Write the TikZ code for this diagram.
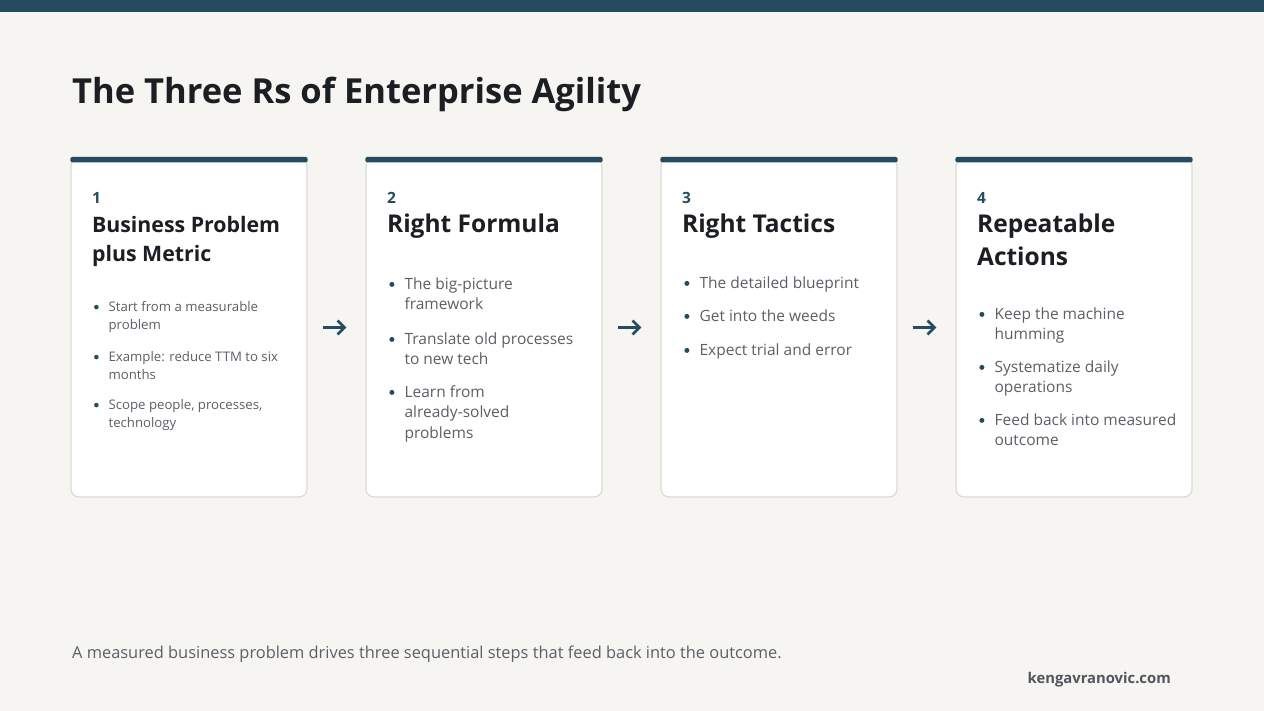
\documentclass[tikz,border=0pt]{standalone}
\usepackage{fontspec}
\setmainfont{Open Sans}
\usetikzlibrary{arrows.meta,calc}
\definecolor{bg}{HTML}{F6F5F1}
\definecolor{dteal}{HTML}{244B5E}
\definecolor{ink}{HTML}{1B1F23}
\definecolor{txtgray}{HTML}{5A6066}
\definecolor{cardline}{HTML}{DADAD7}
\newcommand\bl[2]{\parbox[t]{#1}{\raggedright #2}}
\begin{document}
\begin{tikzpicture}[x=1pt,y=-1pt,
  card/.style={draw=cardline, line width=1.2pt, fill=white, rounded corners=8pt,
    minimum width=236pt, minimum height=339pt, inner sep=0pt},
  numtxt/.style={anchor=base west, inner sep=0pt, text=dteal, font=\fontsize{15.5}{18}\selectfont\bfseries},
  headtxt/.style={anchor=base west, inner sep=0pt, text=ink, font=\fontsize{24.5}{33}\selectfont\bfseries},
  headsmall/.style={anchor=base west, inner sep=0pt, text=ink, font=\fontsize{21.3}{29}\selectfont\bfseries},
  bultxt/.style={anchor=base west, inner sep=0pt, text=txtgray, font=\fontsize{15.5}{20.5}\selectfont},
  bulsmall/.style={anchor=base west, inner sep=0pt, text=txtgray, font=\fontsize{13.2}{18}\selectfont},
  flow/.style={draw=dteal, line width=2.6pt, -{Straight Barb[length=7pt,width=14pt,line width=2.6pt]}},
  bar/.style={fill=dteal, rounded corners=2pt}]
\fill[bg] (0,0) rectangle (1264,711);
\useasboundingbox (0,0) rectangle (1264,711);
\fill[dteal] (0,0) rectangle (1264,12);
\node[anchor=base west, inner sep=0pt, text=ink, font=\fontsize{34.5}{40}\selectfont\bfseries] (title) at (72,104) {The Three Rs of Enterprise Agility};

% cards
\foreach \i/\cx in {1/189,2/484,3/779,4/1074}{
  \node[card] (c\i) at (\cx,327.5) {};
  \fill[bar] ($(c\i.north west)+(0,-0.5)$) rectangle ($(c\i.north east)+(0,5)$);
  \node[numtxt] (n\i) at ($(c\i.north west)+(21.5,46)$) {\i};
}

% headings
\node[headsmall] (h1) at ($(c1.north west)+(21.5,75)$) {\bl{220pt}{Business Problem\\plus Metric}};
\node[headtxt] (h2) at ($(c2.north west)+(21.5,75)$) {Right Formula};
\node[headtxt] (h3) at ($(c3.north west)+(21.5,75)$) {Right Tactics};
\node[headtxt] (h4) at ($(c4.north west)+(21.5,75)$) {\bl{220pt}{Repeatable\\Actions}};

% bullets card 1
\node[bulsmall] (b11) at ($(c1.north west)+(38,154)$) {\bl{190pt}{Start from a measurable\\problem}};
\node[bulsmall] (b12) at ($(c1.north west)+(38,204)$) {\bl{190pt}{Example: reduce TTM to six\\months}};
\node[bulsmall] (b13) at ($(c1.north west)+(38,252)$) {\bl{190pt}{Scope people, processes,\\technology}};
% bullets card 2
\node[bultxt] (b21) at ($(c2.north west)+(39,132)$) {\bl{190pt}{The big-picture\\framework}};
\node[bultxt] (b22) at ($(c2.north west)+(39,187)$) {\bl{190pt}{Translate old processes\\to new tech}};
\node[bultxt] (b23) at ($(c2.north west)+(39,240)$) {\bl{190pt}{Learn from\\already-solved\\problems}};
% bullets card 3
\node[bultxt] (b31) at ($(c3.north west)+(39,131)$) {The detailed blueprint};
\node[bultxt] (b32) at ($(c3.north west)+(39,164)$) {Get into the weeds};
\node[bultxt] (b33) at ($(c3.north west)+(39,198)$) {Expect trial and error};
% bullets card 4
\node[bultxt] (b41) at ($(c4.north west)+(39,162)$) {\bl{190pt}{Keep the machine\\humming}};
\node[bultxt] (b42) at ($(c4.north west)+(39,215)$) {\bl{190pt}{Systematize daily\\operations}};
\node[bultxt] (b43) at ($(c4.north west)+(39,268)$) {\bl{190pt}{Feed back into measured\\outcome}};

% bullet dots
\foreach \b in {b11,b12,b13}{\fill[dteal] ($(\b.base west)+(-12,-4.3)$) circle (2.3pt);}
\foreach \b in {b21,b22,b23,b31,b32,b33,b41,b42,b43}{\fill[dteal] ($(\b.base west)+(-12.5,-5)$) circle (2.5pt);}

% arrows
\draw[flow] ([xshift=15pt]c1.east) -- ([xshift=-19pt]c2.west);
\draw[flow] ([xshift=15pt]c2.east) -- ([xshift=-19pt]c3.west);
\draw[flow] ([xshift=15pt]c3.east) -- ([xshift=-19pt]c4.west);

% footer
\node[anchor=base west, inner sep=0pt, text=txtgray, font=\fontsize{16.4}{18}\selectfont] (foot) at (72,658) {A measured business problem drives three sequential steps that feed back into the outcome.};
\node[anchor=base east, inner sep=0pt, text=txtgray!90!black, font=\fontsize{14.8}{18}\selectfont\bfseries] (site) at (1171,683) {kengavranovic.com};
\end{tikzpicture}
\end{document}
